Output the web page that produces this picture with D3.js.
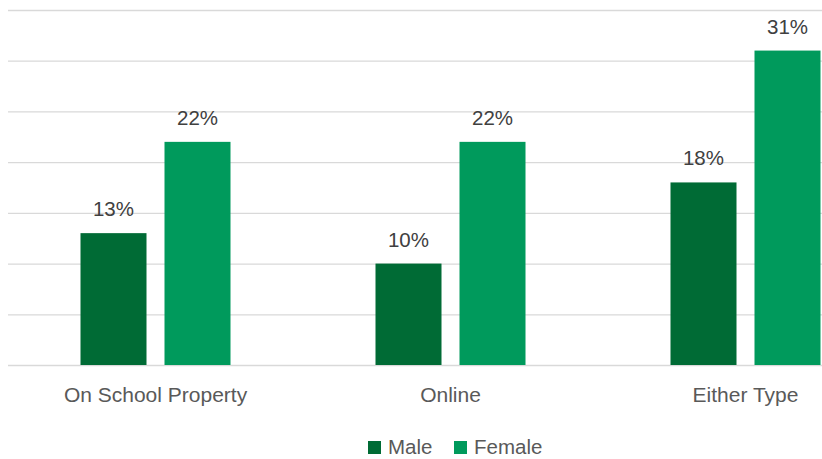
<!DOCTYPE html>
<html><head><meta charset="utf-8">
<script src="https://cdn.jsdelivr.net/npm/d3@7"></script>
<style>body{margin:0;background:#fff}svg{display:block}text{font-family:"Liberation Sans",Arial,sans-serif}</style>
</head><body><svg id="c" width="822" height="459"></svg>
<script>
const categories = ["On School Property", "Online", "Either Type"];
const seriesNames = ["Male", "Female"];
const male = [13, 10, 18];
const female = [22, 22, 31];
const yTicks = [0, 5, 10, 15, 20, 25, 30, 35];
const colors = ["#006B35", "#009A5C"];

const svg = d3.select("#c");
const x0 = d3.scaleBand().domain(categories).range([8, 893]);
const gw = 150;
const x1 = d3.scaleBand().domain(seriesNames)
  .range([(x0.bandwidth() - gw) / 2, (x0.bandwidth() + gw) / 2]).paddingInner(0.2143);
const y = d3.scaleLinear().domain([0, 35]).range([365, 10]);

svg.append("g").selectAll("line").data(yTicks).join("line")
  .attr("x1", 8).attr("x2", 822)
  .attr("y1", d => y(d) + 0.5).attr("y2", d => y(d) + 0.5)
  .attr("stroke", "#d9d9d9").attr("stroke-width", 1.3);

const data = categories.map((c, i) => ({c, vals: [male[i], female[i]]}));
const g = svg.append("g").selectAll("g").data(data).join("g")
  .attr("transform", d => `translate(${x0(d.c)},0)`);
g.selectAll("rect").data(d => d.vals.map((v, j) => ({s: seriesNames[j], v, j}))).join("rect")
  .attr("x", d => x1(d.s)).attr("width", x1.bandwidth())
  .attr("y", d => y(d.v)).attr("height", d => y(0) - y(d.v))
  .attr("fill", d => colors[d.j]);
g.selectAll("text.v").data(d => d.vals.map((v, j) => ({s: seriesNames[j], v, j}))).join("text")
  .attr("class", "v")
  .attr("x", d => x1(d.s) + x1.bandwidth() / 2).attr("y", d => y(d.v) - 17)
  .attr("text-anchor", "middle").attr("font-size", 20.5).attr("fill", "#404040")
  .text(d => d.v + "%");

const xAxis = d3.axisBottom(x0).tickSize(0).tickPadding(0);
const ax = svg.append("g").attr("transform", "translate(0,365)").call(xAxis);
ax.select(".domain").remove();
ax.selectAll("text").attr("font-size", 21).attr("fill", "#595959")
  .attr("dy", null).attr("y", 37).style("font-family", '"Liberation Sans",Arial,sans-serif');

const leg = svg.append("g");
const legX = [368, 454];
seriesNames.forEach((s, i) => {
  leg.append("rect").attr("x", legX[i]).attr("y", 441).attr("width", 13).attr("height", 13).attr("fill", colors[i]);
  leg.append("text").attr("x", legX[i] + 20).attr("y", 454).attr("font-size", 20.5).attr("fill", "#595959").text(s);
});
</script></body></html>
